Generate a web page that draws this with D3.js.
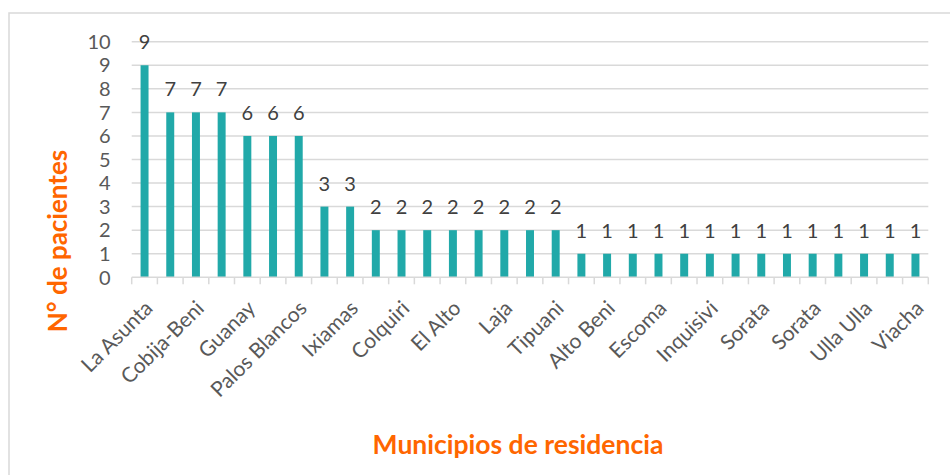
<!DOCTYPE html>
<html>
<head>
<meta charset="utf-8">
<script src="https://cdn.jsdelivr.net/npm/d3@7"></script>
<style>
  body { margin: 0; background: #fff; }
  svg { display: block; font-family: Lato, 'Open Sans', sans-serif; }
</style>
</head>
<body>
<div id="root"></div>
<script>
const width = 950
const height = 475

// municipalities (only every other one is labelled on the axis)
const municipios = [
  'La Asunta', 'Caranavi', 'Cobija-Beni', 'Coroico', 'Guanay', 'Chulumani',
  'Palos Blancos', 'Apolo', 'Ixiamas', 'Mapiri', 'Colquiri', 'Teoponte',
  'El Alto', 'Achacachi', 'Laja', 'Coripata', 'Tipuani', 'Irupana',
  'Alto Beni', 'Yanacachi', 'Escoma', 'Pucarani', 'Inquisivi', 'Copacabana',
  'Sorata', 'Sapahaqui', 'Sorata', 'Luribay', 'Ulla Ulla', 'Quime', 'Viacha',
]
const pacientes = [
  9, 7, 7, 7, 6, 6, 6, 3, 3, 2, 2, 2, 2, 2, 2, 2, 2,
  1, 1, 1, 1, 1, 1, 1, 1, 1, 1, 1, 1, 1, 1,
]
const yTicks = [0, 1, 2, 3, 4, 5, 6, 7, 8, 9, 10]

const data = municipios.map((m, i) => ({ i, name: m, value: pacientes[i] }))

const plot = { left: 131.7, right: 928.3, top: 41.7, bottom: 277.3 }

const svg = d3.select('#root').append('svg').attr('width', width).attr('height', height)

// chart frame
svg.append('rect')
  .attr('x', 9).attr('y', 13)
  .attr('width', 960).attr('height', 480)
  .attr('fill', 'none')
  .attr('stroke', '#d9d9d9')
  .attr('stroke-width', 1.5)

const x = d3.scaleBand()
  .domain(data.map((d) => d.i))
  .range([plot.left, plot.right])
  .paddingInner(0.69)
  .paddingOuter(0.345)

const y = d3.scaleLinear().domain([0, 10]).range([plot.bottom, plot.top])

const step = x.step()
const gap = (step - x.bandwidth()) / 2

// gridlines
svg.append('g')
  .selectAll('line')
  .data(yTicks.filter((t) => t > 0))
  .join('line')
  .attr('x1', plot.left).attr('x2', plot.right)
  .attr('y1', (d) => y(d)).attr('y2', (d) => y(d))
  .attr('stroke', '#d9d9d9')
  .attr('stroke-width', 1.5)

// y tick labels
svg.append('g')
  .selectAll('text')
  .data(yTicks)
  .join('text')
  .attr('x', plot.left - 21)
  .attr('y', (d) => y(d))
  .attr('dy', '0.36em')
  .attr('text-anchor', 'end')
  .attr('font-size', 20)
  .attr('fill', '#595959')
  .text((d) => d)

// bars
svg.append('g')
  .selectAll('rect')
  .data(data)
  .join('rect')
  .attr('x', (d) => x(d.i))
  .attr('y', (d) => y(d.value))
  .attr('width', x.bandwidth())
  .attr('height', (d) => y(0) - y(d.value))
  .attr('fill', '#21a9a9')

// value labels
svg.append('g')
  .selectAll('text')
  .data(data)
  .join('text')
  .attr('x', (d) => x(d.i) + x.bandwidth() / 2)
  .attr('y', (d) => y(d.value) - 16)
  .attr('text-anchor', 'middle')
  .attr('font-size', 20)
  .attr('fill', '#404040')
  .text((d) => d.value)

// x axis line + ticks at category boundaries
const xAxis = svg.append('g').attr('stroke', '#d9d9d9').attr('stroke-width', 1.5)
xAxis.append('line')
  .attr('x1', plot.left).attr('x2', plot.right)
  .attr('y1', y(0)).attr('y2', y(0))
xAxis.selectAll('line.tick')
  .data(data.concat([{ i: data.length }]))
  .join('line')
  .attr('class', 'tick')
  .attr('x1', (d) => (d.i < data.length ? x(d.i) - gap : x(d.i - 1) + x.bandwidth() + gap))
  .attr('x2', (d) => (d.i < data.length ? x(d.i) - gap : x(d.i - 1) + x.bandwidth() + gap))
  .attr('y1', y(0)).attr('y2', y(0) + 7)

// category labels, every other one
svg.append('g')
  .selectAll('text')
  .data(data.filter((d) => d.i % 2 === 0))
  .join('text')
  .attr('transform', (d) => `translate(${x(d.i) + x.bandwidth() / 2 + 4}, ${y(0) + 27}) rotate(-45)`)
  .attr('text-anchor', 'end')
  .attr('dy', '0.36em')
  .attr('font-size', 21)
  .attr('fill', '#595959')
  .text((d) => d.name)

// axis titles
svg.append('text')
  .attr('transform', `translate(67, 241) rotate(-90)`)
  .attr('text-anchor', 'middle')
  .attr('font-size', 26)
  .attr('font-weight', 'bold')
  .attr('fill', '#ff6600')
  .text('N° de pacientes')

svg.append('text')
  .attr('x', 518)
  .attr('y', 454)
  .attr('text-anchor', 'middle')
  .attr('font-size', 26.5)
  .attr('font-weight', 'bold')
  .attr('fill', '#ff6600')
  .text('Municipios de residencia')
</script>
</body>
</html>
